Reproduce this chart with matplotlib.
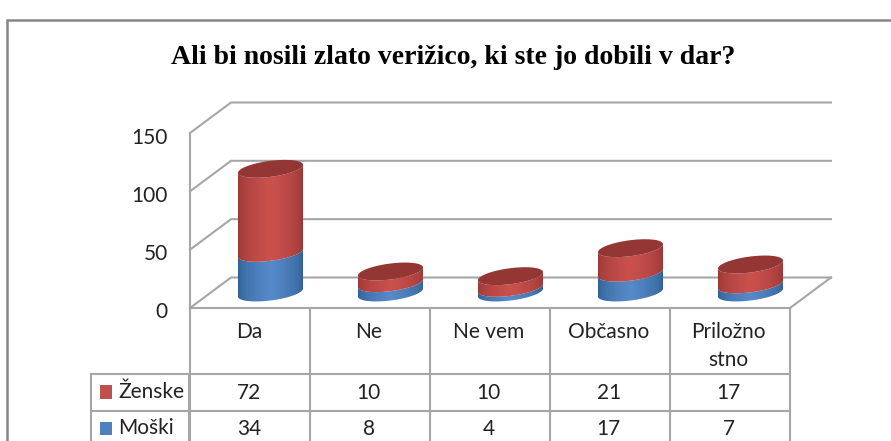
import numpy as np
import matplotlib
matplotlib.use("Agg")
import matplotlib.pyplot as plt
from matplotlib.colors import to_rgb
from matplotlib.patches import Polygon, Rectangle
from matplotlib.transforms import ScaledTranslation

title = "Ali bi nosili zlato verižico, ki ste jo dobili v dar?"
categories = ["Da", "Ne", "Ne vem", "Občasno", "Priložno\nstno"]
zenske = [72, 10, 10, 21, 17]
moski = [34, 8, 4, 17, 7]
series_names = ["Ženske", "Moški"]
y_ticks = [0, 50, 100, 150]

W, H = 891, 441
LEFT, FLOOR, PLOT_W, PLOT_H = 190, 308, 600, 175
GRID = "#a6a6a6"
TXT = "#222222"
FONT = "Lato"
FS = 15

fig = plt.figure(figsize=(W / 100, H / 100), dpi=100, facecolor="white")
ax = fig.add_axes([LEFT / W, (H - FLOOR) / H, PLOT_W / W, PLOT_H / H])
ax.patch.set_visible(False)
for s in ax.spines.values():
    s.set_visible(False)

XU = 5 / PLOT_W      # data units per pixel
YU = 150 / PLOT_H


def dx(px):
    return (px - LEFT) * XU


def dy(py):
    return (FLOOR - py) * YU


def line(xs, ys, color=GRID, lw=1.5, z=1):
    ax.plot([dx(x) for x in xs], [dy(y) for y in ys], color=color, lw=lw,
            clip_on=False, zorder=z, solid_capstyle="projecting")


# 3D walls
DEPTH_X, DEPTH_Y = 41, 30.5
for v in y_ticks:
    y0 = FLOOR - v / YU
    line([LEFT, LEFT + DEPTH_X, LEFT + PLOT_W + DEPTH_X],
         [y0, y0 - DEPTH_Y, y0 - DEPTH_Y])
line([LEFT, LEFT], [FLOOR, FLOOR - PLOT_H])
line([LEFT + PLOT_W, LEFT + PLOT_W + DEPTH_X], [FLOOR, FLOOR - DEPTH_Y])

# Cylinders
A, B, K = 32.5, 8.0, 4.0
BASE_Y = 292.5
CENTER_SHIFT = 20.5
BLUE = ("#2f5f93", "#568ac9")
RED = ("#9a3735", "#cb514e")
TOP = "#943634"


def arc(cx, cy, t):
    return np.column_stack([(cx - LEFT + A * np.cos(t)) * XU,
                            dy(cy + B * np.sin(t) - K * np.cos(t))])


def body(cx, y_low, y_high, cols, z):
    t = np.linspace(0, np.pi, 60)
    pts = np.vstack([arc(cx, y_low, t), arc(cx, y_high, t[::-1])])
    poly = Polygon(pts, closed=True, transform=ax.transData, fc="none", ec="none")
    ax.add_patch(poly)
    c0, c1 = np.array(to_rgb(cols[0])), np.array(to_rgb(cols[1]))
    u = np.linspace(0, 1, 65)
    w = np.clip(1 - np.abs(u - 0.5) * 2, 0, 1) ** 0.55
    grad = (c0[None] * (1 - w[:, None]) + c1[None] * w[:, None])[None]
    im = ax.imshow(grad, extent=[dx(cx - A), dx(cx + A), dy(y_low + 14), dy(y_high - 14)],
                   aspect="auto", interpolation="bilinear", zorder=z)
    im.set_clip_path(poly)


for i, (m, f) in enumerate(zip(moski, zenske)):
    cx = LEFT + (i + 0.5) * 120 + CENTER_SHIFT
    y_m = BASE_Y - m / YU
    y_t = BASE_Y - (m + f) / YU
    body(cx, BASE_Y, y_m, BLUE, 3)
    body(cx, y_m, y_t, RED, 4)
    t = np.linspace(0, 2 * np.pi, 120)
    ax.add_patch(Polygon(arc(cx, y_t, t), closed=True, fc=TOP, ec="none", zorder=5))

ax.set_xlim(0, 5)
ax.set_ylim(0, 150)
ax.set_xticks([])
ax.set_yticks(y_ticks)
ax.set_yticklabels([str(v) for v in y_ticks], fontfamily=FONT, fontsize=FS, color=TXT)
ax.tick_params(axis="y", length=0, pad=16)
for lab in ax.get_yticklabels():
    lab.set_transform(lab.get_transform() + ScaledTranslation(0, -2.5 / 100, fig.dpi_scale_trans))

# Data table
ROW_Y = [374, 411, 448]
COL_X = [LEFT + 120 * i - (0.1 * i) for i in range(6)]
LEG_X = 91
for y in [FLOOR] + ROW_Y:
    line([LEFT, COL_X[-1]], [y, y])
for y in ROW_Y:
    line([LEG_X, LEFT], [y, y])
for x in COL_X:
    line([x, x], [FLOOR, 448])
line([LEG_X, LEG_X], [374, 448])
line([189, 189], [374, 448])


def txt(x, y, s, ha="center", **kw):
    ax.text(dx(x), dy(y), s, ha=ha, va="center", fontfamily=FONT, fontsize=FS,
            color=TXT, clip_on=False, **kw)


for i, c in enumerate(categories):
    cx = (COL_X[i] + COL_X[i + 1]) / 2 - 1
    parts = c.split("\n")
    txt(cx, 332, parts[0])
    if len(parts) > 1:
        txt(cx, 360, parts[1])
    txt(cx, 393, str(zenske[i]))
    txt(cx, 429, str(moski[i]))

for name, col, y0, y1, ty in [(series_names[0], "#c0504d", 385, 399, 391.5),
                              (series_names[1], "#4f81bd", 422, 435, 428.5)]:
    ax.add_patch(Rectangle((dx(100), dy(y1)), 12.5 * XU, (y1 - y0) * YU, fc=col, ec="none",
                           clip_on=False, zorder=3))
    txt(118, ty, name, ha="left")

# Chart frame
ax.plot([dx(7), dx(7), dx(W + 5)], [dy(H + 5), dy(20), dy(20)], color="#868686", lw=1.8,
        clip_on=False, zorder=1, solid_joinstyle="miter")

# Title
fig.text(453 / W, 1 - 58 / H, title, ha="center", va="center", fontfamily="Liberation Serif",
         fontweight="bold", fontsize=20, color="black")

fig.savefig("out.png", dpi=100, facecolor="white")
